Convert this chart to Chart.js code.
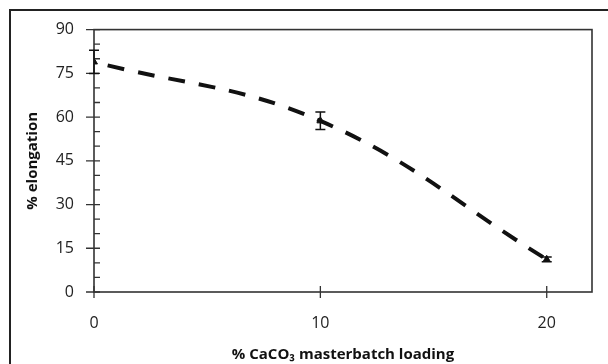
<!DOCTYPE html>
<html>
<head>
<meta charset="utf-8">
<script src="https://cdn.jsdelivr.net/npm/chart.js@4.4.0/dist/chart.umd.min.js"></script>
<style>body{margin:0;background:#fff}</style>
</head>
<body>
<canvas id="elongChart" width="608" height="364"></canvas>
<script>
// x축 : CaCO3 masterbatch 함량 (%)
let loading = [0, 10, 20];
// y축 : 신율 (%)
let elongation = [78.9, 58.7, 11.2];
let elongErr = [4.0, 3.0, 0.8];
let xTicks = [0, 10, 20];
let yMinorTicks = [5, 10, 20, 25, 35, 40, 50, 55, 65, 70, 80, 85];

let points = loading.map(function(x, i) {
	return {x: x, y: elongation[i]};
});

// 테두리, 눈금, 오차막대 그리기
let extrasPlugin = {
	id: 'extras',
	afterDraw: function(chart) {
		let ctx = chart.ctx;
		let area = chart.chartArea;
		let xs = chart.scales.x;
		let ys = chart.scales.y;
		ctx.save();
		// 바깥 프레임
		ctx.strokeStyle = '#222';
		ctx.lineWidth = 2;
		ctx.beginPath();
		ctx.moveTo(10, 370);
		ctx.lineTo(10, 10);
		ctx.lineTo(610, 10);
		ctx.stroke();
		// 플롯 박스
		ctx.strokeStyle = '#333';
		ctx.lineWidth = 1.6;
		ctx.strokeRect(area.left, area.top, area.right - area.left, area.bottom - area.top);
		// y 주눈금 / 보조눈금
		ctx.lineWidth = 1.3;
		ctx.beginPath();
		ys.ticks.forEach(function(t) {
			let py = ys.getPixelForValue(t.value);
			ctx.moveTo(area.left - 8, py);
			ctx.lineTo(area.left + 6, py);
		});
		yMinorTicks.forEach(function(v) {
			let py = ys.getPixelForValue(v);
			ctx.moveTo(area.left, py);
			ctx.lineTo(area.left + 6, py);
		});
		// x 눈금
		xTicks.forEach(function(v) {
			let px = xs.getPixelForValue(v);
			ctx.moveTo(px, area.bottom - 6);
			ctx.lineTo(px, area.bottom + 6);
		});
		ctx.stroke();
		// 오차막대
		ctx.strokeStyle = '#111';
		ctx.lineWidth = 1.5;
		ctx.beginPath();
		loading.forEach(function(x, i) {
			let px = xs.getPixelForValue(x);
			let top = ys.getPixelForValue(elongation[i] + elongErr[i]);
			let bot = ys.getPixelForValue(elongation[i] - elongErr[i]);
			ctx.moveTo(px, top);
			ctx.lineTo(px, bot);
			ctx.moveTo(px - 5, top);
			ctx.lineTo(px + 5, top);
			ctx.moveTo(px - 5, bot);
			ctx.lineTo(px + 5, bot);
		});
		ctx.stroke();
		ctx.restore();
	}
};

var ctx = document.getElementById('elongChart').getContext('2d');
var elongChart = new Chart(ctx, {
	type: 'scatter',
	data: {
		datasets: [{
			label: '% elongation',
			data: points,
			showLine: true,
			tension: 0.4,
			borderColor: '#111',
			borderWidth: 4,
			borderDash: [17, 14],
			borderDashOffset: 17,
			pointStyle: 'triangle',
			pointRadius: 4,
			pointBackgroundColor: '#111',
			pointBorderColor: '#111',
			pointBorderWidth: 1
		}]
	},
	options: {
		responsive: false,
		animation: false,
		layout: {
			padding: {left: 10, top: 23, right: 16, bottom: 0}
		},
		scales: {
			x: {
				type: 'linear',
				min: 0,
				max: 22,
				afterBuildTicks: function(axis) {
					axis.ticks = xTicks.map(function(v) { return {value: v}; });
				},
				afterFit: function(axis) { axis.height = 72; },
				grid: {display: false, drawTicks: false},
				border: {display: false},
				ticks: {
					padding: 22,
					color: '#222',
					font: {family: 'Open Sans', size: 16}
				},
				title: {
					display: true,
					text: '% CaCO\u2083 masterbatch loading',
					color: '#111',
					padding: {top: 0, bottom: 0},
					font: {family: 'Open Sans', size: 15, weight: 'bold'}
				}
			},
			y: {
				min: 0,
				max: 90,
				afterFit: function(axis) { axis.width = 84; },
				grid: {display: false, drawTicks: false},
				border: {display: false},
				ticks: {
					stepSize: 15,
					padding: 20,
					color: '#222',
					font: {family: 'Open Sans', size: 16}
				},
				title: {
					display: true,
					text: '% elongation',
					color: '#111',
					padding: {top: 14, bottom: 0},
					font: {family: 'Open Sans', size: 15, weight: 'bold'}
				}
			}
		},
		plugins: {
			legend: {display: false},
			tooltip: {enabled: false}
		}
	},
	plugins: [extrasPlugin]
});
</script>
</body>
</html>
